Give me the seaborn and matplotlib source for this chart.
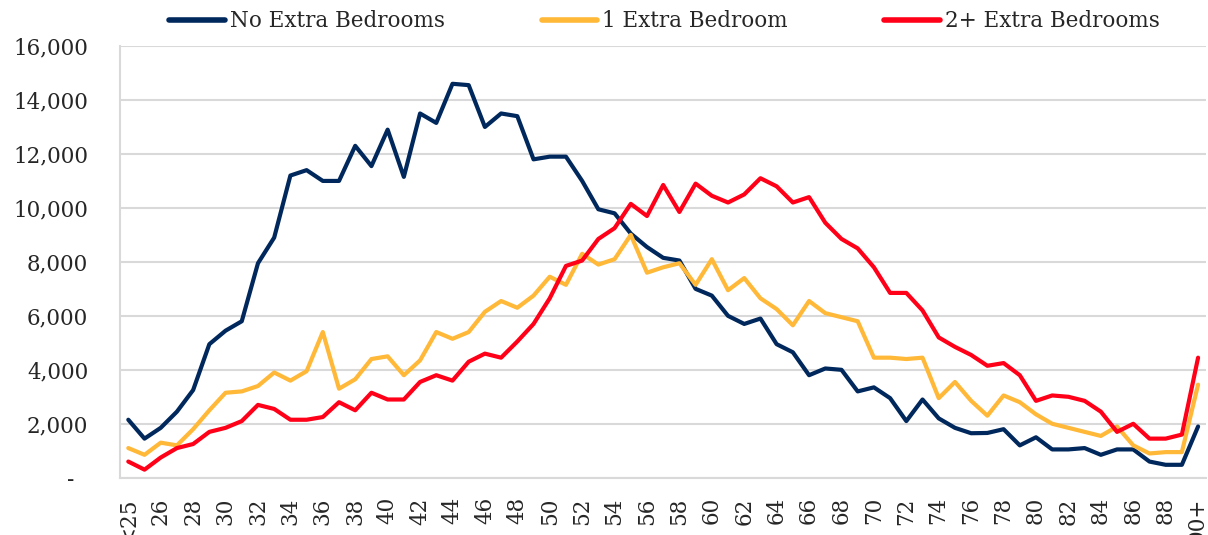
import numpy as np
import pandas as pd
import matplotlib
matplotlib.use("Agg")
import matplotlib.pyplot as plt
import seaborn as sns

# age categories (x axis)
ages = ["<25"] + [str(a) for a in range(25, 90)] + ["90+"]

# households by age
no_extra = [2150, 1450, 1850, 2450, 3250, 4950, 5450, 5800, 7950, 8900,
            11200, 11400, 11000, 11000, 12300, 11550, 12900, 11150, 13500, 13150,
            14600, 14550, 13000, 13500, 13400, 11800, 11900, 11900, 11000, 9950,
            9800, 9050, 8550, 8150, 8050, 7000, 6750, 6000, 5700, 5900,
            4950, 4650, 3800, 4050, 4000, 3200, 3350, 2950, 2100, 2900,
            2200, 1850, 1650, 1660, 1800, 1200, 1500, 1050, 1050, 1100,
            850, 1050, 1050, 600, 480, 480, 1900]
one_extra = [1100, 850, 1300, 1200, 1800, 2500, 3150, 3200, 3400, 3900,
             3600, 3950, 5400, 3300, 3650, 4400, 4500, 3800, 4350, 5400,
             5150, 5400, 6150, 6550, 6300, 6750, 7450, 7150, 8300, 7900,
             8100, 9000, 7600, 7800, 7950, 7150, 8100, 6950, 7400, 6650,
             6250, 5650, 6550, 6100, 5950, 5800, 4450, 4450, 4400, 4450,
             2950, 3550, 2850, 2300, 3050, 2800, 2350, 2000, 1850, 1700,
             1550, 1900, 1200, 900, 950, 950, 3450]
two_extra = [600, 300, 750, 1100, 1250, 1700, 1850, 2100, 2700, 2550,
             2150, 2150, 2250, 2800, 2500, 3150, 2900, 2900, 3550, 3800,
             3600, 4300, 4600, 4450, 5050, 5700, 6650, 7850, 8050, 8850,
             9250, 10150, 9700, 10850, 9850, 10900, 10450, 10200, 10500, 11100,
             10800, 10200, 10400, 9450, 8850, 8500, 7800, 6850, 6850, 6200,
             5200, 4850, 4550, 4150, 4250, 3800, 2850, 3050, 3000, 2850,
             2450, 1700, 2000, 1450, 1450, 1600, 4450]

series_names = ["No Extra Bedrooms", "1 Extra Bedroom", "2+ Extra Bedrooms"]
colors = ["#00285C", "#FFB838", "#FF0018"]

pos = np.arange(len(ages))
df = pd.concat([
    pd.DataFrame({"pos": pos, "count": vals, "series": name})
    for name, vals in zip(series_names, [no_extra, one_extra, two_extra])
])

sns.set_style("white")
plt.rcParams["font.family"] = ["DejaVu Serif"]

fig = plt.figure(figsize=(12.08, 5.35), dpi=100)
ax = fig.add_axes([0.0995, 0.107, 0.899, 0.807])

sns.lineplot(data=df, x="pos", y="count", hue="series", hue_order=series_names,
             palette=colors, linewidth=3, ax=ax)

ax.set_xlim(-0.5, len(ages) - 0.5)
ax.set_ylim(0, 16000)
yt = np.arange(0, 16001, 2000)
ax.set_yticks(yt)
ax.set_yticklabels(["-  "] + [f"{v:,}" for v in yt[1:]], fontsize=15.5)
ax.yaxis.grid(True, color="#D9D9D9", linewidth=1.5)
ax.set_axisbelow(True)

ax.set_xticks(pos[::2])
ax.set_xticklabels(ages[::2], rotation=90, fontsize=15.5)
ax.set_xticks(np.arange(-0.5, len(ages), 1), minor=True)
ax.tick_params(axis="x", which="major", length=0, pad=14)
ax.tick_params(axis="x", which="minor", length=8, width=1.5, color="#D9D9D9")
ax.tick_params(axis="y", length=0, pad=23)
ax.set_xlabel("")
ax.set_ylabel("")

for s in ["top", "right"]:
    ax.spines[s].set_visible(False)
for s in ["left", "bottom"]:
    ax.spines[s].set_color("#D9D9D9")
    ax.spines[s].set_linewidth(1.5)

handles, labels = ax.get_legend_handles_labels()
ax.legend(handles, labels, loc="center", bbox_to_anchor=(0.55, 0.96),
          bbox_transform=fig.transFigure, ncol=3, frameon=False,
          fontsize=15.5, handlelength=2.6, columnspacing=4.5, handletextpad=0.2)
for line in ax.get_legend().get_lines():
    line.set_linewidth(4)

fig.savefig("out.png", dpi=100)
